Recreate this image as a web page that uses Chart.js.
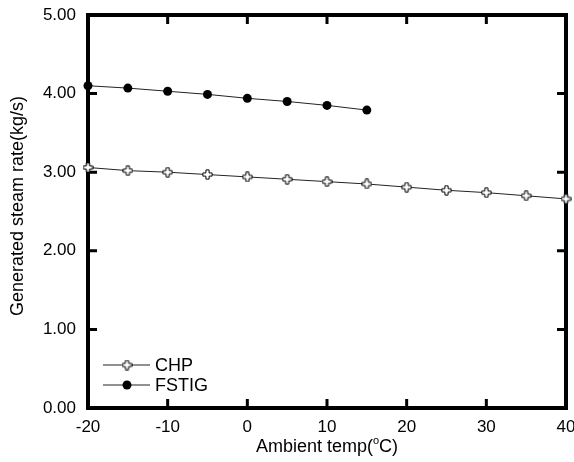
<!DOCTYPE html>
<html>
<head>
<meta charset="utf-8">
<script src="https://cdn.jsdelivr.net/npm/chart.js@4.4.0/dist/chart.umd.min.js"></script>
<style>
  html, body { margin: 0; padding: 0; background: #fff; }
  #wrap { width: 574px; height: 462px; }
</style>
</head>
<body>
<div id="wrap"><canvas id="steam-chart" width="574" height="462"></canvas></div>
<script>
// data
const chpTemps = [-20, -15, -10, -5, 0, 5, 10, 15, 20, 25, 30, 35, 40];
const chpSteam = [3.06, 3.02, 3.00, 2.97, 2.94, 2.91, 2.88, 2.85, 2.81, 2.77, 2.74, 2.70, 2.66];
const fstigTemps = [-20, -15, -10, -5, 0, 5, 10, 15];
const fstigSteam = [4.10, 4.07, 4.03, 3.99, 3.94, 3.90, 3.85, 3.79];
const xTicks = [-20, -10, 0, 10, 20, 30, 40];
const yTicks = [0, 1, 2, 3, 4, 5];
const seriesNames = ['CHP', 'FSTIG'];

const FONT = '"Liberation Sans", Arial, sans-serif';

// white plus marker with black outline
function makePlus() {
    const c = document.createElement('canvas');
    c.width = 11; c.height = 11;
    const g = c.getContext('2d');
    const m = 5.5, a = 1.6, l = 4.6;
    g.beginPath();
    g.moveTo(m - a, m - l); g.lineTo(m + a, m - l); g.lineTo(m + a, m - a);
    g.lineTo(m + l, m - a); g.lineTo(m + l, m + a); g.lineTo(m + a, m + a);
    g.lineTo(m + a, m + l); g.lineTo(m - a, m + l); g.lineTo(m - a, m + a);
    g.lineTo(m - l, m + a); g.lineTo(m - l, m - a); g.lineTo(m - a, m - a);
    g.closePath();
    g.fillStyle = '#fff';
    g.fill();
    g.lineWidth = 1;
    g.strokeStyle = '#000';
    g.stroke();
    return c;
}
const plusMarker = makePlus();

const framePlugin = {
    id: 'frame',
    beforeDatasetsDraw(chart) {
        const ctx = chart.ctx;
        const xs = chart.scales.x, ys = chart.scales.y;
        const a = chart.chartArea;
        ctx.save();
        ctx.strokeStyle = '#000';
        ctx.lineWidth = 4;
        ctx.strokeRect(a.left, a.top, a.right - a.left, a.bottom - a.top);

        // inward ticks on all four sides
        ctx.lineWidth = 3;
        ctx.beginPath();
        xTicks.forEach(v => {
            const px = xs.getPixelForValue(v);
            ctx.moveTo(px, a.bottom); ctx.lineTo(px, a.bottom - 9);
            ctx.moveTo(px, a.top); ctx.lineTo(px, a.top + 9);
        });
        yTicks.forEach(v => {
            const py = ys.getPixelForValue(v);
            ctx.moveTo(a.left, py); ctx.lineTo(a.left + 9, py);
            ctx.moveTo(a.right, py); ctx.lineTo(a.right - 9, py);
        });
        ctx.stroke();

        // tick labels
        ctx.fillStyle = '#000';
        ctx.font = '17px ' + FONT;
        ctx.textAlign = 'center';
        ctx.textBaseline = 'middle';
        xTicks.forEach(v => {
            ctx.fillText(String(v), xs.getPixelForValue(v), a.bottom + 19);
        });
        ctx.textAlign = 'right';
        yTicks.forEach(v => {
            ctx.fillText(v.toFixed(2), a.left - 12, ys.getPixelForValue(v));
        });

        // axis titles
        const midX = (a.left + a.right) / 2;
        ctx.textAlign = 'left';
        ctx.textBaseline = 'alphabetic';
        const p1 = 'Ambient temp(', p2 = 'o', p3 = 'C)';
        ctx.font = '18px ' + FONT;
        const w1 = ctx.measureText(p1).width, w3 = ctx.measureText(p3).width;
        ctx.font = '11px ' + FONT;
        const w2 = ctx.measureText(p2).width;
        let x0 = midX - (w1 + w2 + w3) / 2;
        const base = 452;
        ctx.font = '18px ' + FONT;
        ctx.fillText(p1, x0, base);
        ctx.font = '11px ' + FONT;
        ctx.fillText(p2, x0 + w1, base - 8);
        ctx.font = '18px ' + FONT;
        ctx.fillText(p3, x0 + w1 + w2, base);

        ctx.save();
        ctx.translate(18, 206);
        ctx.rotate(-Math.PI / 2);
        ctx.textAlign = 'center';
        ctx.textBaseline = 'middle';
        ctx.fillText('Generated steam rate(kg/s)', 0, 0);
        ctx.restore();
        ctx.restore();
    },
    afterDatasetsDraw(chart) {
        // legend in lower left corner
        const ctx = chart.ctx;
        const a = chart.chartArea;
        ctx.save();
        chart.data.datasets.forEach((ds, i) => {
            const y = a.bottom - 43 + i * 20;
            ctx.strokeStyle = '#222';
            ctx.lineWidth = 1;
            ctx.beginPath();
            ctx.moveTo(a.left + 15, y); ctx.lineTo(a.left + 62, y);
            ctx.stroke();
            const mx = a.left + 39;
            if (ds.pointStyle === 'circle') {
                ctx.fillStyle = '#000';
                ctx.beginPath();
                ctx.arc(mx, y, 4.5, 0, Math.PI * 2);
                ctx.fill();
            } else {
                ctx.drawImage(plusMarker, mx - 5.5, y - 5.5);
            }
            ctx.fillStyle = '#000';
            ctx.font = '18px ' + FONT;
            ctx.textAlign = 'left';
            ctx.textBaseline = 'middle';
            ctx.fillText(ds.label, a.left + 67, y + 1);
        });
        ctx.restore();
    }
};

const ctx = document.getElementById('steam-chart').getContext('2d');
new Chart(ctx, {
    type: 'line',
    data: {
        datasets: [{
            label: seriesNames[0],
            data: chpTemps.map((t, i) => ({ x: t, y: chpSteam[i] })),
            borderColor: '#222',
            borderWidth: 1,
            pointStyle: plusMarker,
            pointRadius: 5,
            clip: false
        }, {
            label: seriesNames[1],
            data: fstigTemps.map((t, i) => ({ x: t, y: fstigSteam[i] })),
            borderColor: '#222',
            borderWidth: 1,
            pointStyle: 'circle',
            pointRadius: 4.5,
            pointBackgroundColor: '#000',
            pointBorderColor: '#000',
            pointBorderWidth: 0,
            clip: false
        }]
    },
    options: {
        responsive: false,
        animation: false,
        events: [],
        layout: { padding: { left: 88, right: 8, top: 15, bottom: 54 } },
        plugins: { legend: { display: false }, tooltip: { enabled: false } },
        scales: {
            x: { type: 'linear', min: -20, max: 40, display: false },
            y: { min: 0, max: 5, display: false }
        }
    },
    plugins: [framePlugin]
});
</script>
</body>
</html>
